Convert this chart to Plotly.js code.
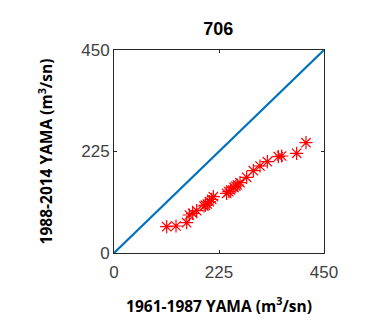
<!DOCTYPE html>
<html>
<head>
<meta charset="utf-8">
<script src="https://cdn.plot.ly/plotly-3.0.1.min.js"></script>
<style>
  html, body { margin: 0; padding: 0; background: #fff; }
  #chart { width: 367px; height: 329px; }
</style>
</head>
<body>
<div id="chart"></div>
<script>
// Station 706: annual flow, 1961-1987 vs 1988-2014 (m3/sn)
const period1 = [112.9, 132.9, 155.7, 161.4, 168.6, 177.2, 192.9, 196.0, 200.0, 204.3, 209.3, 212.9,
                 241.4, 246.0, 250.0, 257.1, 261.0, 264.3, 270.0, 284.3, 298.6, 312.9, 328.6,
                 352.1, 359.3, 391.4, 411.4];
const period2 = [58.4, 59.8, 67.2, 84.2, 87.9, 93.8, 104.2, 106.0, 108.6, 113.8, 119.0, 124.9,
                 132.3, 136.0, 139.7, 145.6, 148.0, 150.7, 155.9, 167.7, 182.5, 192.9, 202.5,
                 213.5, 215.0, 220.9, 244.6];
const diagX = [0, 450];
const diagY = [0, 450];
const tickVals = [0, 225, 450];
const tickText = ['0', '225', '450'];

const traces = [
  {
    x: diagX, y: diagY, type: 'scatter', mode: 'lines',
    line: { color: '#0072BD', width: 2.2 },
    hoverinfo: 'skip'
  },
  {
    x: period1, y: period2, type: 'scatter', mode: 'markers',
    marker: { symbol: 'asterisk-open', size: 11, color: '#FF0000',
              line: { color: '#FF0000', width: 1.2 } }
  },
  {
    // centre dot of each star
    x: period1, y: period2, type: 'scatter', mode: 'markers',
    marker: { symbol: 'circle', size: 3, color: '#FF0000' }
  }
];

const axisCommon = {
  range: [0, 450],
  tickvals: tickVals,
  ticktext: tickText,
  ticks: 'inside',
  ticklen: 3,
  tickcolor: '#262626',
  showline: true,
  mirror: 'ticks',
  linecolor: '#262626',
  linewidth: 1,
  showgrid: false,
  zeroline: false,
  tickfont: { family: 'Liberation Sans, Arial, sans-serif', size: 17, color: '#404040' }
};

const layout = {
  width: 367, height: 329,
  margin: { l: 114, r: 43, t: 50, b: 76 },
  paper_bgcolor: '#fff', plot_bgcolor: '#fff',
  showlegend: false,
  title: {
    text: '<b>706</b>',
    font: { family: 'Liberation Sans, Arial, sans-serif', size: 18, color: '#000' },
    x: 0.595, xanchor: 'center', y: 0.912, yanchor: 'middle'
  },
  xaxis: Object.assign({}, axisCommon, {
    ticklabelstandoff: 4,
    title: { text: '<b>1961-1987 YAMA (m<sup>3</sup>/sn)</b>', standoff: 19,
             font: { family: 'Open Sans, Liberation Sans, sans-serif', size: 15.5, color: '#000' } }
  }),
  yaxis: Object.assign({}, axisCommon, {
    title: { text: '<b>1988-2014 YAMA (m<sup>3</sup>/sn)</b>', standoff: 24,
             font: { family: 'Open Sans, Liberation Sans, sans-serif', size: 15.5, color: '#000' } }
  })
};

Plotly.newPlot('chart', traces, layout, { displayModeBar: false, staticPlot: true });
</script>
</body>
</html>
